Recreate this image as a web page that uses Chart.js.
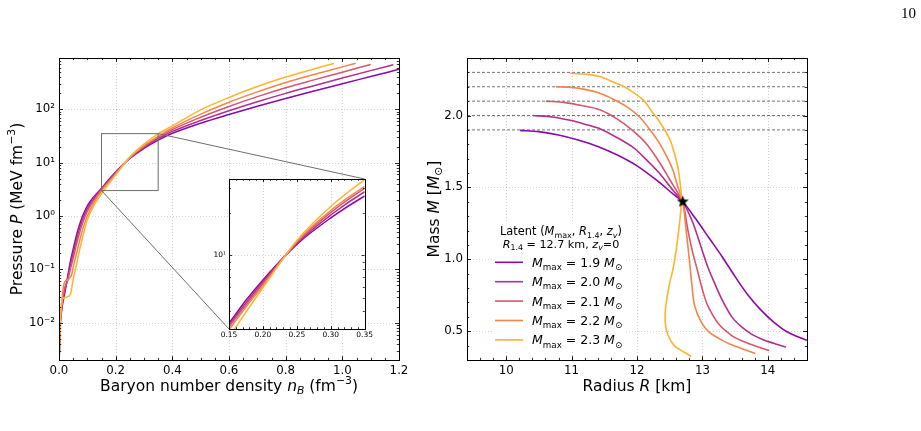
<!DOCTYPE html>
<html>
<head>
<meta charset="utf-8">
<script src="https://cdn.jsdelivr.net/npm/chart.js@4.4.1/dist/chart.umd.min.js"></script>
<style>
html, body { margin: 0; padding: 0; background: #fff; }
#page { position: relative; width: 921px; height: 431px; overflow: hidden; }
canvas { position: absolute; }
#pageNum { position: absolute; left: 901px; top: 5px; font: 15px "Liberation Serif", serif; color: #000; }
</style>
</head>
<body>
<div id="page">
  <canvas id="eos" width="460" height="431" style="left:0px;top:0px"></canvas>
  <canvas id="zoom" width="175" height="175" style="left:200px;top:170px"></canvas>
  <canvas id="mr" width="511" height="431" style="left:410px;top:0px"></canvas>
  <div id="pageNum">10</div>
</div>
<script>
// --- data ---
const mMax = [1.9, 2.0, 2.1, 2.2, 2.3];
const curveColors = ['#8b0aa5', '#b12f8f', '#d6566e', '#f3844b', '#fdb42f'];

// pressure vs baryon density, one pair of arrays per M_max
const nB19 = [0.0005, 0.004, 0.01, 0.02, 0.03, 0.04, 0.05, 0.06, 0.07, 0.08, 0.09, 0.1, 0.125, 0.15, 0.175, 0.2, 0.25, 0.3, 0.35, 0.4, 0.5, 0.6, 0.7, 0.8, 0.9, 1.0, 1.1, 1.2];
const P19  = [0.002, 0.008, 0.018, 0.035, 0.07, 0.14, 0.24, 0.4, 0.62, 0.9, 1.2, 1.55, 2.35, 3.3, 4.8, 6.7, 12.0, 18.5, 26.5, 35.5, 55, 80, 114, 160, 220, 302, 412, 562];
const nB20 = [0.0005, 0.004, 0.01, 0.02, 0.03, 0.04, 0.05, 0.06, 0.07, 0.08, 0.09, 0.1, 0.125, 0.15, 0.175, 0.2, 0.25, 0.3, 0.35, 0.4, 0.5, 0.6, 0.7, 0.8, 0.9, 1.0, 1.1, 1.18];
const P20  = [0.002, 0.009, 0.02, 0.04, 0.065, 0.12, 0.2, 0.33, 0.52, 0.77, 1.05, 1.38, 2.2, 3.2, 4.6, 6.5, 12.2, 19.4, 28.4, 38.5, 61.7, 94, 139, 199, 277, 385, 531, 684];
const nB21 = [0.0005, 0.004, 0.01, 0.02, 0.03, 0.04, 0.05, 0.06, 0.07, 0.08, 0.09, 0.1, 0.125, 0.15, 0.175, 0.2, 0.25, 0.3, 0.35, 0.4, 0.5, 0.6, 0.7, 0.8, 0.9, 1.0, 1.1];
const P21  = [0.002, 0.009, 0.02, 0.045, 0.06, 0.1, 0.16, 0.27, 0.43, 0.65, 0.92, 1.22, 2.05, 3.1, 4.45, 6.3, 12.4, 20.2, 30.0, 41.7, 70.8, 113, 173, 254, 356, 495, 692];
const nB22 = [0.0005, 0.004, 0.01, 0.015, 0.02, 0.035, 0.045, 0.05, 0.06, 0.07, 0.08, 0.09, 0.1, 0.125, 0.15, 0.175, 0.2, 0.25, 0.3, 0.35, 0.4, 0.5, 0.6, 0.7, 0.8, 0.9, 1.0, 1.047];
const P22  = [0.002, 0.01, 0.025, 0.045, 0.058, 0.066, 0.08, 0.11, 0.18, 0.3, 0.48, 0.72, 1.0, 1.85, 2.95, 4.3, 6.1, 12.6, 20.9, 31.0, 44.7, 81.3, 136, 212, 319, 449, 624, 733];
const nB23 = [0.0005, 0.004, 0.008, 0.012, 0.025, 0.04, 0.05, 0.06, 0.07, 0.08, 0.09, 0.1, 0.125, 0.15, 0.175, 0.2, 0.25, 0.3, 0.35, 0.4, 0.5, 0.6, 0.7, 0.8, 0.9, 0.97];
const P23  = [0.002, 0.01, 0.02, 0.028, 0.03, 0.034, 0.065, 0.11, 0.2, 0.34, 0.55, 0.85, 1.65, 2.6, 3.95, 5.9, 12.8, 22.3, 34.5, 49, 97.7, 167, 267, 402, 571, 724];

// mass-radius curves
const radius19 = [10.21, 10.5, 10.8, 11.1, 11.4, 11.7, 12.0, 12.3, 12.55, 12.7, 12.9, 13.1, 13.3, 13.5, 13.7, 13.9, 14.1, 14.3, 14.6, 14.8];
const mass19   = [1.897, 1.888, 1.865, 1.83, 1.785, 1.725, 1.65, 1.55, 1.455, 1.40, 1.28, 1.15, 1.02, 0.88, 0.75, 0.645, 0.56, 0.495, 0.437, 0.41];
const radius20 = [10.41, 10.7, 11.0, 11.2, 11.45, 11.7, 11.95, 12.15, 12.35, 12.55, 12.7, 12.85, 12.97, 13.08, 13.2, 13.3, 13.45, 13.6, 13.75, 13.92, 14.1, 14.28];
const mass20   = [2.0, 1.99, 1.965, 1.94, 1.905, 1.845, 1.775, 1.69, 1.595, 1.48, 1.40, 1.26, 1.10, 0.95, 0.82, 0.72, 0.60, 0.53, 0.48, 0.443, 0.415, 0.39];
const radius21 = [10.61, 10.9, 11.15, 11.43, 11.7, 11.95, 12.15, 12.35, 12.5, 12.62, 12.7, 12.78, 12.85, 12.92, 13.0, 13.08, 13.25, 13.45, 13.62, 13.82, 14.02];
const mass21   = [2.10, 2.09, 2.07, 2.04, 1.975, 1.89, 1.80, 1.67, 1.555, 1.465, 1.40, 1.2, 1.05, 0.93, 0.79, 0.68, 0.55, 0.47, 0.43, 0.395, 0.366];
const radius22 = [10.76, 11.0, 11.22, 11.43, 11.63, 11.83, 12.04, 12.19, 12.34, 12.45, 12.55, 12.62, 12.7, 12.75, 12.80, 12.84, 12.88, 12.98, 13.1, 13.25, 13.41, 13.6, 13.81];
const mass22   = [2.20, 2.196, 2.18, 2.155, 2.115, 2.065, 1.99, 1.906, 1.81, 1.72, 1.62, 1.51, 1.40, 1.21, 1.0, 0.82, 0.68, 0.565, 0.495, 0.45, 0.413, 0.38, 0.345];
const radius23 = [10.98, 11.2, 11.43, 11.68, 11.83, 12.09, 12.24, 12.34, 12.5, 12.57, 12.62, 12.66, 12.68, 12.68, 12.65, 12.6, 12.55, 12.5, 12.44, 12.43, 12.47, 12.57, 12.7, 12.83];
const mass23   = [2.294, 2.288, 2.271, 2.225, 2.194, 2.11, 2.02, 1.96, 1.836, 1.74, 1.651, 1.53, 1.44, 1.40, 1.25, 1.067, 0.93, 0.836, 0.674, 0.569, 0.477, 0.40, 0.36, 0.326];

const R14 = [12.7];   // star
const M14 = [1.4];

// ticks
const eosXTicks = [0, 0.2, 0.4, 0.6, 0.8, 1.0, 1.2];
const eosYTicks = [0.01, 0.1, 1, 10, 100];
const eosYLabels = ['10⁻²', '10⁻¹', '10⁰', '10¹', '10²'];
const zoomXTicks = [0.15, 0.2, 0.25, 0.3, 0.35];
const zoomYTicks = [10];
const zoomYLabels = ['10¹'];
const mrXTicks = [10, 11, 12, 13, 14];
const mrYTicks = [0.5, 1.0, 1.5, 2.0];

// axis limits
const eosX = [0, 1.2], eosY = [0.002, 916];
const zoomX = [0.15, 0.35], zoomY = [3, 35];
const mrX = [9.4, 14.6], mrY = [0.3, 2.4];

const FONT = '"DejaVu Sans", sans-serif';
const ZOOM_LEFT = 200, ZOOM_TOP = 170;
const TICK_SIZE = 11.8, TITLE_SIZE = 15.5;

const eosSeries = [[nB19, P19], [nB20, P20], [nB21, P21], [nB22, P22], [nB23, P23]];
const mrSeries = [[radius19, mass19], [radius20, mass20], [radius21, mass21], [radius22, mass22], [radius23, mass23]];

const pts = (xs, ys) => xs.map((x, i) => ({ x, y: ys[i] }));

function linMinor(min, max, step) {
    const out = [];
    for (let v = Math.ceil(min / step - 1e-9) * step; v <= max + 1e-9; v += step) out.push(+v.toFixed(6));
    return out;
}
function logMinor(min, max) {
    const out = [];
    for (let e = Math.floor(Math.log10(min)); e <= Math.ceil(Math.log10(max)); e++) {
        for (let m = 2; m <= 9; m++) {
            const v = m * Math.pow(10, e);
            if (v >= min && v <= max) out.push(v);
        }
    }
    return out;
}

function drawRich(ctx, parts, x, y, size, align, angle) {
    ctx.save();
    ctx.translate(x, y);
    if (angle) ctx.rotate(angle);
    ctx.fillStyle = '#000';
    ctx.textBaseline = 'alphabetic';
    const fonts = parts.map(p => (p.it ? 'italic ' : '') + ((p.sub || p.sup) ? size * 0.7 : size) + 'px ' + FONT);
    const widths = parts.map((p, i) => { ctx.font = fonts[i]; return ctx.measureText(p.t).width; });
    const total = widths.reduce((s, w) => s + w, 0);
    let cx = align === 'center' ? -total / 2 : (align === 'right' ? -total : 0);
    const base = size * 0.36;
    parts.forEach((p, i) => {
        ctx.font = fonts[i];
        const dy = p.sub ? size * 0.25 : (p.sup ? -size * 0.42 : 0);
        ctx.fillText(p.t, cx, base + dy);
        cx += widths[i];
    });
    ctx.restore();
}

// grid, inward ticks on all sides, frame, rich axis titles
const axesDeco = {
    id: 'axesDeco',
    beforeDraw(chart, args, o) {
        if (!o.fill) return;
        const { ctx, chartArea: a } = chart;
        ctx.save();
        ctx.fillStyle = '#fff';
        ctx.fillRect(a.left, a.top, a.right - a.left, a.bottom - a.top);
        ctx.restore();
    },
    beforeDatasetsDraw(chart, args, o) {
        const { ctx, chartArea: a, scales: { x, y } } = chart;
        ctx.save();
        ctx.strokeStyle = 'rgba(0,0,0,0.22)';
        ctx.lineWidth = 0.8;
        ctx.setLineDash([1, 2]);
        ctx.beginPath();
        o.xMajor.forEach(v => { const p = Math.round(x.getPixelForValue(v)) + 0.5; ctx.moveTo(p, a.top); ctx.lineTo(p, a.bottom); });
        o.yMajor.forEach(v => { const p = Math.round(y.getPixelForValue(v)) + 0.5; ctx.moveTo(a.left, p); ctx.lineTo(a.right, p); });
        ctx.stroke();
        ctx.restore();
    },
    afterDatasetsDraw(chart, args, o) {
        const { ctx, chartArea: a, scales: { x, y } } = chart;
        ctx.save();
        ctx.strokeStyle = '#000';
        ctx.lineWidth = 0.8;
        ctx.beginPath();
        const xt = (vals, len) => vals.forEach(v => {
            const p = Math.round(x.getPixelForValue(v)) + 0.5;
            ctx.moveTo(p, a.bottom); ctx.lineTo(p, a.bottom - len);
            ctx.moveTo(p, a.top); ctx.lineTo(p, a.top + len);
        });
        const yt = (vals, len) => vals.forEach(v => {
            const p = Math.round(y.getPixelForValue(v)) + 0.5;
            ctx.moveTo(a.left, p); ctx.lineTo(a.left + len, p);
            ctx.moveTo(a.right, p); ctx.lineTo(a.right - len, p);
        });
        xt(o.xMajor, o.major); xt(o.xMinor, o.minor);
        yt(o.yMajor, o.major); yt(o.yMinor, o.minor);
        ctx.stroke();
        ctx.lineWidth = 1;
        ctx.strokeRect(Math.round(a.left) + 0.5, Math.round(a.top) + 0.5, Math.round(a.right - a.left), Math.round(a.bottom - a.top));
        ctx.restore();
    },
    afterDraw(chart, args, o) {
        (o.titles || []).forEach(t => drawRich(chart.ctx, t.parts, t.x, t.y, t.size, 'center', t.angle));
    }
};

function starImage(r) {
    const c = document.createElement('canvas');
    const s = Math.ceil(r * 2 + 2);
    c.width = c.height = s;
    const g = c.getContext('2d');
    g.translate(s / 2, s / 2);
    g.beginPath();
    for (let i = 0; i < 10; i++) {
        const rr = i % 2 ? r * 0.42 : r;
        const ang = -Math.PI / 2 + i * Math.PI / 5;
        g.lineTo(rr * Math.cos(ang), rr * Math.sin(ang));
    }
    g.closePath();
    g.fillStyle = '#000';
    g.fill();
    return c;
}

function tickFont(size) { return { family: FONT, size }; }

// --- inset (zoom of the crossing region) ---
const zoomChart = new Chart(document.getElementById('zoom'), {
    type: 'line',
    data: {
        datasets: eosSeries.map(([n, p], i) => ({
            data: pts(n, p), borderColor: curveColors[i], borderWidth: 1.5,
            pointRadius: 0, cubicInterpolationMode: 'monotone', order: 5 - i
        }))
    },
    options: {
        responsive: false, animation: false, devicePixelRatio: 1,
        layout: { padding: { left: 0, top: 9, right: 10, bottom: 0 } },
        plugins: {
            legend: { display: false }, tooltip: { enabled: false },
            axesDeco: {
                fill: true, major: 3, minor: 1.8,
                xMajor: zoomXTicks, xMinor: linMinor(zoomX[0], zoomX[1], 0.01),
                yMajor: zoomYTicks, yMinor: logMinor(zoomY[0], zoomY[1])
            }
        },
        scales: {
            x: {
                type: 'linear', min: zoomX[0], max: zoomX[1], bounds: 'data',
                grid: { display: false, drawTicks: false }, border: { display: false },
                ticks: { font: tickFont(7.5), color: '#000', padding: 2, maxRotation: 0, autoSkip: false, callback: v => v.toFixed(2) },
                afterBuildTicks: s => { s.ticks = zoomXTicks.map(v => ({ value: v })); },
                afterFit: s => { s.height = 16; }
            },
            y: {
                type: 'logarithmic', min: zoomY[0], max: zoomY[1], bounds: 'data',
                grid: { display: false, drawTicks: false }, border: { display: false },
                ticks: { font: tickFont(7.5), color: '#000', padding: 3, autoSkip: false, callback: v => zoomYLabels[zoomYTicks.indexOf(v)] },
                afterBuildTicks: s => { s.ticks = zoomYTicks.map(v => ({ value: v })); },
                afterFit: s => { s.width = 29; }
            }
        }
    },
    plugins: [axesDeco]
});

// inset box and connectors on the main EOS panel
const insetMark = {
    id: 'insetMark',
    afterDatasetsDraw(chart) {
        const { ctx, scales: { x, y } } = chart;
        const za = zoomChart.chartArea;
        const bx0 = x.getPixelForValue(zoomX[0]), bx1 = x.getPixelForValue(zoomX[1]);
        const by0 = y.getPixelForValue(zoomY[1]), by1 = y.getPixelForValue(zoomY[0]);
        ctx.save();
        ctx.strokeStyle = '#6e6e6e';
        ctx.lineWidth = 1;
        ctx.strokeRect(bx0, by0, bx1 - bx0, by1 - by0);
        ctx.beginPath();
        ctx.moveTo(bx1, by0); ctx.lineTo(za.right + ZOOM_LEFT, za.top + ZOOM_TOP);
        ctx.moveTo(bx0, by1); ctx.lineTo(za.left + ZOOM_LEFT, za.bottom + ZOOM_TOP);
        ctx.stroke();
        ctx.restore();
    }
};

new Chart(document.getElementById('eos'), {
    type: 'line',
    data: {
        datasets: eosSeries.map(([n, p], i) => ({
            data: pts(n, p), borderColor: curveColors[i], borderWidth: 1.5,
            pointRadius: 0, cubicInterpolationMode: 'monotone', order: 5 - i
        }))
    },
    options: {
        responsive: false, animation: false, devicePixelRatio: 1,
        layout: { padding: { left: 0, top: 58, right: 61, bottom: 31 } },
        plugins: {
            legend: { display: false }, tooltip: { enabled: false },
            axesDeco: {
                major: 4, minor: 2.2,
                xMajor: eosXTicks, xMinor: linMinor(eosX[0], eosX[1], 0.05),
                yMajor: eosYTicks, yMinor: logMinor(eosY[0], eosY[1]),
                titles: [
                    { parts: [{ t: 'Baryon number density ' }, { t: 'n', it: 1 }, { t: 'B', it: 1, sub: 1 }, { t: ' (fm' }, { t: '−3', sup: 1 }, { t: ')' }], x: 229, y: 385, size: TITLE_SIZE },
                    { parts: [{ t: 'Pressure ' }, { t: 'P', it: 1 }, { t: ' (MeV fm' }, { t: '−3', sup: 1 }, { t: ')' }], x: 16, y: 209, size: TITLE_SIZE, angle: -Math.PI / 2 }
                ]
            }
        },
        scales: {
            x: {
                type: 'linear', min: eosX[0], max: eosX[1], bounds: 'data',
                grid: { display: false, drawTicks: false }, border: { display: false },
                ticks: { font: tickFont(TICK_SIZE), color: '#000', padding: 4, maxRotation: 0, autoSkip: false, callback: v => v.toFixed(1) },
                afterBuildTicks: s => { s.ticks = eosXTicks.map(v => ({ value: v })); },
                afterFit: s => { s.height = 40; }
            },
            y: {
                type: 'logarithmic', min: eosY[0], max: eosY[1], bounds: 'data',
                grid: { display: false, drawTicks: false }, border: { display: false },
                ticks: { font: tickFont(TICK_SIZE), color: '#000', padding: 4, autoSkip: false, callback: v => eosYLabels[eosYTicks.indexOf(v)] },
                afterBuildTicks: s => { s.ticks = eosYTicks.map(v => ({ value: v })); },
                afterFit: s => { s.width = 59; }
            }
        }
    },
    plugins: [axesDeco, insetMark]
});

// --- mass-radius panel ---
const mrLegend = {
    id: 'mrLegend',
    afterDatasetsDraw(chart) {
        const { ctx, chartArea: a } = chart;
        ctx.save();
        ctx.fillStyle = 'rgba(255,255,255,0.85)';
        ctx.fillRect(a.left + 26, 222, 133, 128);
        ctx.restore();
        const cx = a.left + 94;
        drawRich(ctx, [{ t: 'Latent (' }, { t: 'M', it: 1 }, { t: 'max', sub: 1 }, { t: ', ' }, { t: 'R', it: 1 }, { t: '1.4', sub: 1 }, { t: ', ' }, { t: 'z', it: 1 }, { t: 'v', it: 1, sub: 1 }, { t: ')' }], cx, 231, 11.4, 'center');
        drawRich(ctx, [{ t: 'R', it: 1 }, { t: '1.4', sub: 1 }, { t: ' = 12.7 km, ' }, { t: 'z', it: 1 }, { t: 'v', it: 1, sub: 1 }, { t: '=0' }], cx, 243.5, 11.2, 'center');
        mMax.forEach((m, i) => {
            const yy = 262.3 + i * 19.4;
            ctx.save();
            ctx.strokeStyle = curveColors[i];
            ctx.lineWidth = 1.6;
            ctx.beginPath();
            ctx.moveTo(a.left + 28, yy); ctx.lineTo(a.left + 56, yy);
            ctx.stroke();
            ctx.restore();
            drawRich(ctx, [{ t: 'M', it: 1 }, { t: 'max', sub: 1 }, { t: ' = ' + m.toFixed(1) + ' ' }, { t: 'M', it: 1 }, { t: '⊙', sub: 1 }], a.left + 65, yy, 12.5, 'left');
        });
    }
};

const star = starImage(6.3);

new Chart(document.getElementById('mr'), {
    type: 'line',
    data: {
        datasets: [
            ...mMax.map(m => ({
                data: [{ x: mrX[0], y: m }, { x: mrX[1], y: m }], borderColor: 'rgba(50,50,50,0.75)',
                borderWidth: 0.9, borderDash: [3, 2], pointRadius: 0, order: 10
            })),
            ...mrSeries.map(([r, m], i) => ({
                data: pts(r, m), borderColor: curveColors[i], borderWidth: 1.6,
                pointRadius: 0, tension: 0.3, order: 6 - i
            })),
            { data: pts(R14, M14), showLine: false, pointStyle: star, pointRadius: 6, order: 0 }
        ]
    },
    options: {
        responsive: false, animation: false, devicePixelRatio: 1,
        layout: { padding: { left: 0, top: 58, right: 114, bottom: 31 } },
        plugins: {
            legend: { display: false }, tooltip: { enabled: false },
            axesDeco: {
                major: 4, minor: 2.2,
                xMajor: mrXTicks, xMinor: linMinor(mrX[0], mrX[1], 0.2),
                yMajor: mrYTicks, yMinor: linMinor(mrY[0], mrY[1], 0.1),
                titles: [
                    { parts: [{ t: 'Radius ' }, { t: 'R', it: 1 }, { t: ' [km]' }], x: 227, y: 385, size: TITLE_SIZE },
                    { parts: [{ t: 'Mass ' }, { t: 'M', it: 1 }, { t: ' [' }, { t: 'M', it: 1 }, { t: '⊙', sub: 1 }, { t: ']' }], x: 23, y: 209, size: TITLE_SIZE, angle: -Math.PI / 2 }
                ]
            }
        },
        scales: {
            x: {
                type: 'linear', min: mrX[0], max: mrX[1], bounds: 'data',
                grid: { display: false, drawTicks: false }, border: { display: false },
                ticks: { font: tickFont(TICK_SIZE), color: '#000', padding: 4, maxRotation: 0, autoSkip: false, callback: v => String(v) },
                afterBuildTicks: s => { s.ticks = mrXTicks.map(v => ({ value: v })); },
                afterFit: s => { s.height = 40; }
            },
            y: {
                type: 'linear', min: mrY[0], max: mrY[1], bounds: 'data',
                grid: { display: false, drawTicks: false }, border: { display: false },
                ticks: { font: tickFont(TICK_SIZE), color: '#000', padding: 4, autoSkip: false, callback: v => v.toFixed(1) },
                afterBuildTicks: s => { s.ticks = mrYTicks.map(v => ({ value: v })); },
                afterFit: s => { s.width = 57; }
            }
        }
    },
    plugins: [axesDeco, mrLegend]
});
</script>
</body>
</html>
